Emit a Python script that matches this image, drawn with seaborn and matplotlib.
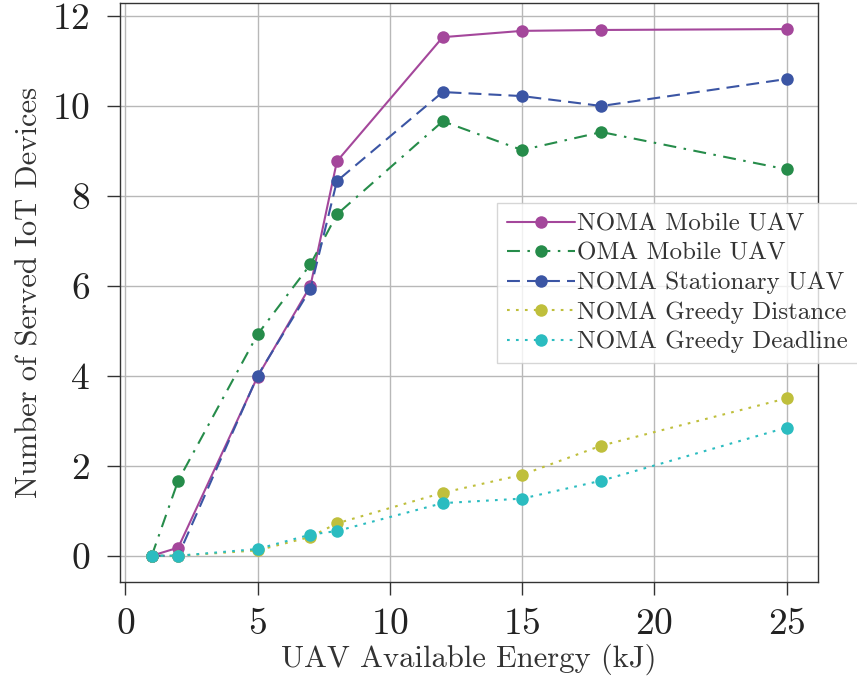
import matplotlib
matplotlib.use("Agg")
import matplotlib.pyplot as plt
import seaborn as sns
import pandas as pd

# UAV energy budgets (kJ)
energy = [1, 2, 5, 7, 8, 12, 15, 18, 25]

# Number of served IoT devices for each scheme
noma_mobile = [0.0, 0.18, 3.98, 6.0, 8.77, 11.53, 11.67, 11.69, 11.71]
oma_mobile = [0.0, 1.67, 4.92, 6.48, 7.59, 9.66, 9.02, 9.42, 8.59]
noma_stationary = [0.0, 0.0, 4.0, 5.93, 8.33, 10.31, 10.22, 10.0, 10.6]
greedy_distance = [0.0, 0.0, 0.12, 0.42, 0.72, 1.4, 1.8, 2.45, 3.5]
greedy_deadline = [0.0, 0.0, 0.15, 0.47, 0.55, 1.17, 1.27, 1.67, 2.85]

labels = ["NOMA Mobile UAV", "OMA Mobile UAV", "NOMA Stationary UAV",
          "NOMA Greedy Distance", "NOMA Greedy Deadline"]
series = [noma_mobile, oma_mobile, noma_stationary, greedy_distance, greedy_deadline]
colors = ["#a4479b", "#268c4a", "#3b55a4", "#bfbf3c", "#2bbcc0"]
# dash patterns in units of line width (None = solid)
dash_patterns = [None, (6.2, 3.6, 1.2, 3.6), (6.2, 3.4), (1.3, 3.0), (1.3, 3.0)]

sns.set_style("ticks")
plt.rcParams["font.family"] = ["cmr10", "DejaVu Serif"]
plt.rcParams["mathtext.fontset"] = "cm"
plt.rcParams["axes.formatter.use_mathtext"] = True

fig = plt.figure(figsize=(8.57, 6.84), dpi=100)
ax = fig.add_axes([0.140, 0.149, 0.815, 0.847])

for lab, vals, col, dp in zip(labels, series, colors, dash_patterns):
    df = pd.DataFrame({"energy": energy, "served": vals})
    sns.lineplot(data=df, x="energy", y="served", ax=ax, color=col,
                 linewidth=1.5, marker="o", markersize=9,
                 markeredgewidth=0, label=lab)
    if dp is not None:
        ax.lines[-1].set_dashes(dp)

ax.grid(True, color="#b8b8b8", linewidth=1.0)
ax.set_axisbelow(True)
for s in ax.spines.values():
    s.set_color("#333333")
    s.set_linewidth(1.0)
ax.tick_params(axis="both", labelsize=27, length=9.5, width=1.0, color="#333333",
               labelcolor="#222222")
ax.tick_params(axis="x", pad=9)
ax.tick_params(axis="y", pad=12)
ax.set_xticks([0, 5, 10, 15, 20, 25])
ax.set_yticks([0, 2, 4, 6, 8, 10, 12])
ax.set_xlabel("UAV Available Energy (kJ)", fontsize=22, color="#333333", labelpad=2)
ax.set_ylabel("Number of Served IoT Devices", fontsize=22, color="#333333", labelpad=6)

leg = ax.legend(loc="center left", bbox_to_anchor=(0.58, 0.586),
                bbox_transform=fig.transFigure, borderaxespad=0, fontsize=18,
                handlelength=2.7, handletextpad=0.1, labelspacing=0.28,
                borderpad=0.4, frameon=True, fancybox=False, framealpha=0.8)
leg.get_frame().set_edgecolor("#cccccc")
for t in leg.get_texts():
    t.set_color("#333333")

fig.savefig("out.png", dpi=100)
